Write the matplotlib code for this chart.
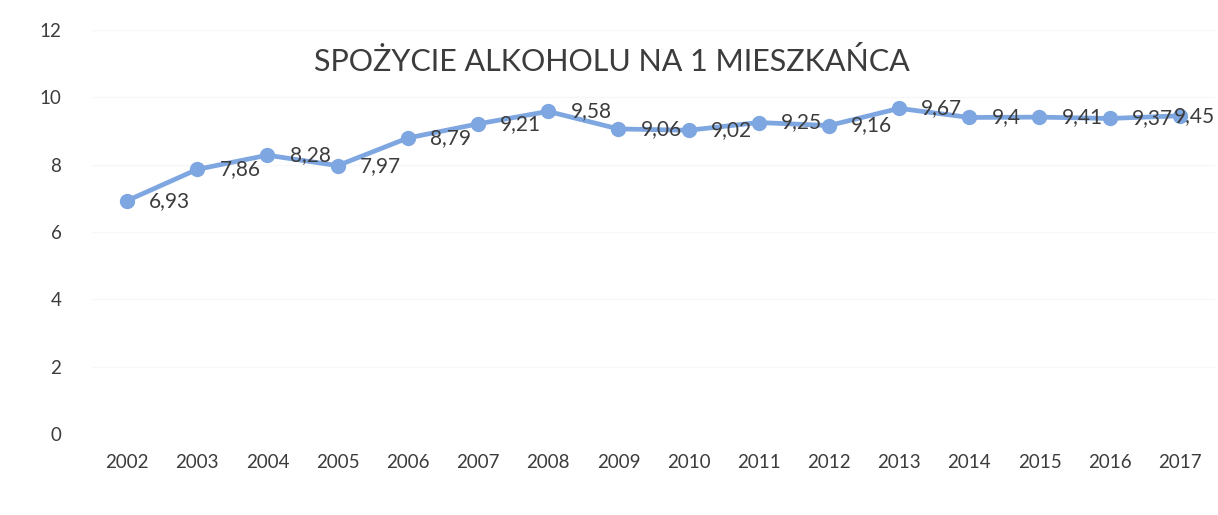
import matplotlib.pyplot as plt
import numpy as np

#%% Data

years = ['2002', '2003', '2004', '2005', '2006', '2007', '2008', '2009',
         '2010', '2011', '2012', '2013', '2014', '2015', '2016', '2017']
values = [6.93, 7.86, 8.28, 7.97, 8.79, 9.21, 9.58, 9.06,
          9.02, 9.25, 9.16, 9.67, 9.4, 9.41, 9.37, 9.45]
labels = ['6,93', '7,86', '8,28', '7,97', '8,79', '9,21', '9,58', '9,06',
          '9,02', '9,25', '9,16', '9,67', '9,4', '9,41', '9,37', '9,45']
yticks = [0, 2, 4, 6, 8, 10, 12]
title = 'SPOŻYCIE ALKOHOLU NA 1 MIESZKAŃCA'

#%% Plot

plt.rcParams['font.family'] = ['Lato', 'DejaVu Sans']
text_col = '#3c3c3c'
line_col = '#7ea6e0'

fig = plt.figure(figsize=(12.18, 5.15), dpi=100)
ax = fig.add_axes([0.0755, 0.157, 0.922, 0.785])

x = np.arange(len(years))
ax.plot(x, values, color=line_col, linewidth=3.4, marker='o', markersize=10,
        markerfacecolor=line_col, markeredgecolor=line_col, zorder=3)

for i, (xi, v, lab) in enumerate(zip(x, values, labels)):
    if i == len(values) - 1:
        # last label pushed back inside the chart, as in the original
        ax.annotate(lab, (xi, v), xytext=(25, 0), textcoords='offset points',
                    ha='right', va='center', fontsize=15, color=text_col, zorder=4)
    else:
        ax.annotate(lab, (xi, v), xytext=(16, 0), textcoords='offset points',
                    ha='left', va='center', fontsize=15, color=text_col, zorder=4)

ax.set_xlim(-0.5, len(years) - 0.5)
ax.set_ylim(0, 12)
ax.set_yticks(yticks)
ax.set_xticks(x)
ax.set_xticklabels(years)
ax.tick_params(axis='both', length=0, labelsize=13.5, colors=text_col)
ax.tick_params(axis='y', pad=22)
ax.tick_params(axis='x', pad=14)
ax.grid(axis='y', color='#f7f7f7', linewidth=1)
ax.set_axisbelow(True)
for s in ax.spines.values():
    s.set_visible(False)

fig.text(0.502, 0.880, title, ha='center', va='center', fontsize=22, color=text_col)

plt.savefig('out.png', dpi=100)
